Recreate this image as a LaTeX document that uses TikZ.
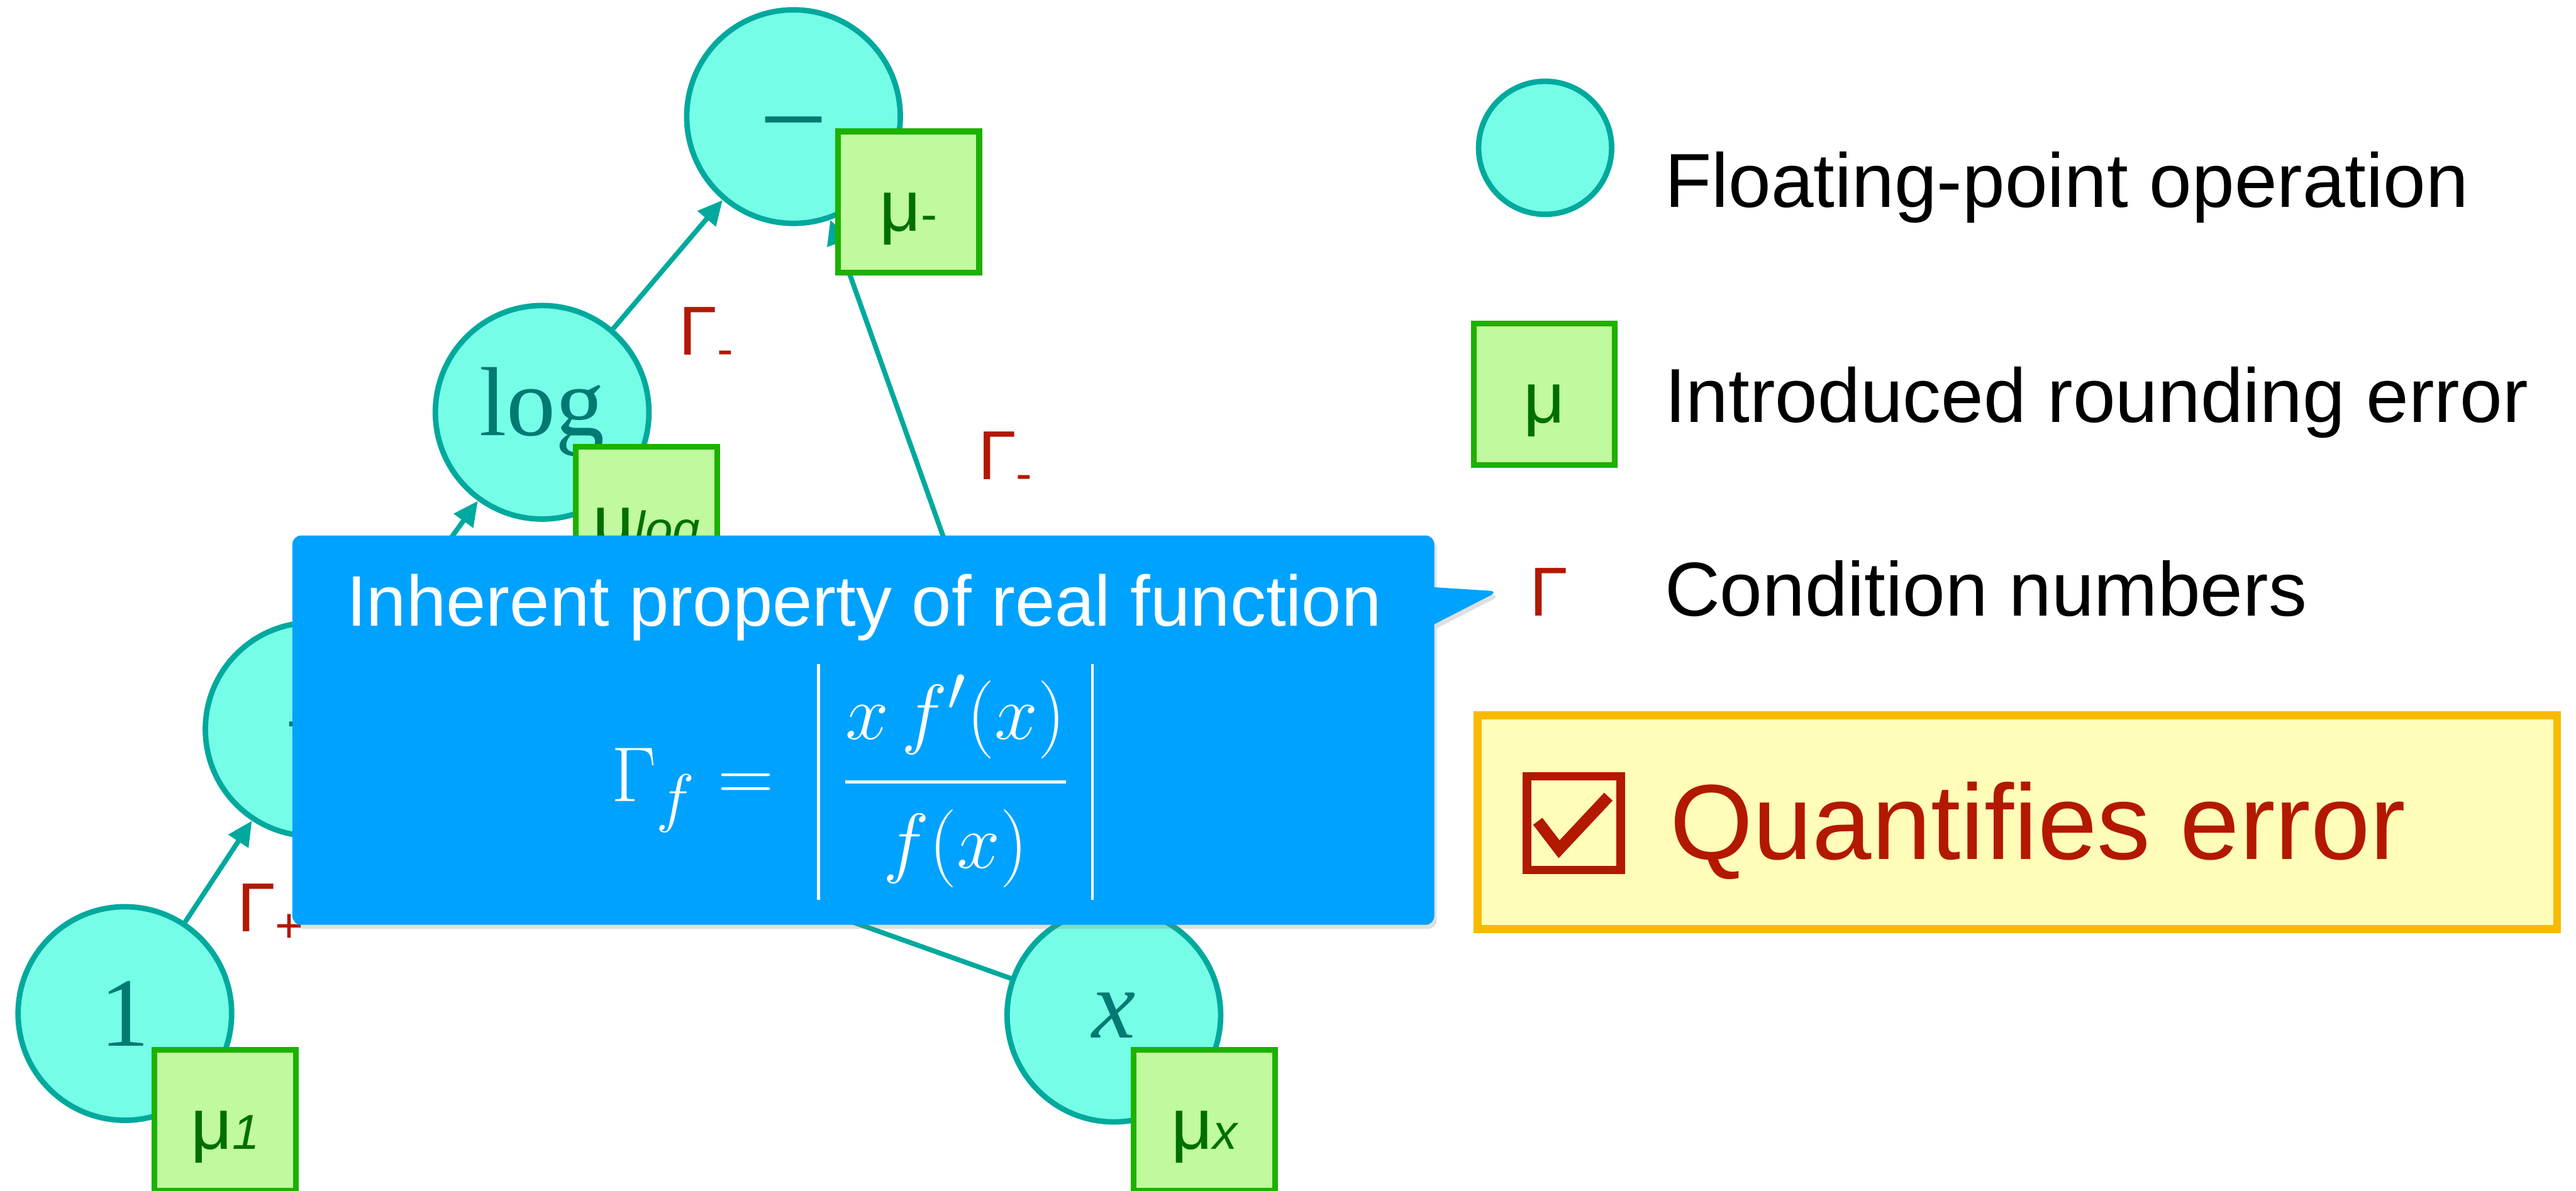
\documentclass[tikz,border=0pt]{standalone}
\usepackage{amsmath}
\usepackage[no-math]{fontspec}
\setmainfont{Liberation Sans}
\newfontfamily\opfont{Liberation Serif}
\usetikzlibrary{arrows.meta,shapes.callouts,shadows}

\definecolor{opfill}{HTML}{76FDE7}
\definecolor{opline}{HTML}{00A99D}
\definecolor{optext}{HTML}{007A73}
\definecolor{errfill}{HTML}{C0F99E}
\definecolor{errline}{HTML}{1DB100}
\definecolor{errtext}{HTML}{006F00}
\definecolor{condred}{HTML}{B31800}
\definecolor{noteblue}{HTML}{00A2FF}
\definecolor{goalfill}{HTML}{FFFDB8}
\definecolor{goalline}{HTML}{F8BA00}

\newcommand{\errsub}[1]{{\fontsize{17}{20}\selectfont #1}}
\newcommand{\absbar}{\rule[-31.3pt]{0.9pt}{75.2pt}}

\begin{document}
\begin{tikzpicture}[
    op/.style={circle, draw=opline, fill=opfill, line width=1.9pt, minimum size=2.6cm, inner sep=0pt, text=optext, font=\opfont\fontsize{34}{40}\selectfont},
    err/.style={draw=errline, fill=errfill, line width=2pt, minimum size=1.72cm, inner sep=0pt, text=errtext, text height=22pt, text depth=2pt, font=\fontsize{25}{30}\selectfont, drop shadow={opacity=0.2, shadow xshift=0.04cm, shadow yshift=-0.04cm}},
    cond/.style={anchor=base west, inner sep=0pt, text=condred, font=\fontsize{24}{28}\selectfont},
    arr/.style={-{Triangle[length=3mm,width=2.8mm]}, line width=1.7pt, opline},
    leg/.style={anchor=base west, inner sep=0pt, font=\fontsize{26.5}{32}\selectfont}
]
\useasboundingbox (0,0) rectangle (31.36,14.5);

\node[op, font=\opfont\fontsize{42}{48}\selectfont, text height=30pt, text depth=0pt] (minus) at (9.66,13.08) {−};
\node[op] (log) at (6.60,9.48) {log};
\node[op] (plus) at (3.80,5.62) {+};
\node[op] (one) at (1.52,2.16) {1};
\node[op] (x) at (13.56,2.14) {\itshape x};

\draw[arr] (one) -- (plus);
\draw[arr] (x) -- (plus);
\draw[arr] (plus) -- (log);
\draw[arr] (log) -- (minus);
\draw[arr] (x) -- (minus);

\node[err] (errminus) at (11.06,12.04) {μ\errsub{-}};
\node[err] (errlog) at (7.87,8.20) {μ\errsub{\itshape log}};
\node[err] (errone) at (2.74,0.86) {μ\errsub{\itshape 1}};
\node[err] (errx) at (14.66,0.86) {μ\errsub{\itshape x}};

\node[cond] (condplus) at (2.88,3.16) {Γ\textsubscript{+}};
\node[cond] (condlog) at (8.26,10.18) {Γ\textsubscript{-}};
\node[cond] (condx) at (11.90,8.66) {Γ\textsubscript{-}};

\node[rectangle callout, fill=noteblue, minimum width=13.9cm, minimum height=4.74cm, rounded corners=3pt, callout absolute pointer={(18.24,7.30)}, callout pointer width=0.45cm, drop shadow={opacity=0.25, shadow xshift=0.03cm, shadow yshift=-0.05cm}] (note) at (10.51,5.61) {};
\node[anchor=base, inner sep=0pt, text=white, font=\fontsize{24.8}{30}\selectfont] (notetitle) at (10.52,6.88) {Inherent property of real function};
\node[inner sep=0pt, text=white, font=\fontsize{24.88}{30}\selectfont] (noteformula) at (10.38,4.98) {\scalebox{1.085}{$\Gamma_{f} = \;\absbar\;\dfrac{x\,f'(x)\rule[-0.41em]{0pt}{0pt}}{\rule{0pt}{0.96em}f(x)}\;\absbar$}};

\node[op, minimum size=1.62cm] (legop) at (18.81,12.70) {};
\node[leg] (legoptext) at (20.26,11.98) {Floating-point operation};
\node[err] (legerr) at (18.80,9.70) {μ};
\node[leg] (legerrtext) at (20.26,9.36) {Introduced rounding error};
\node[cond] (legcond) at (18.62,7.00) {Γ};
\node[leg] (legcondtext) at (20.26,7.00) {Condition numbers};

\node[draw=goalline, fill=goalfill, line width=2.8pt, minimum width=13.14cm, minimum height=2.6cm] (goal) at (24.56,4.49) {};
\node[draw=condred, line width=2.9pt, minimum size=1.14cm, inner sep=0pt] (chk) at (19.16,4.48) {};
\draw[condred, line width=4pt] ([shift={(-0.44,0.02)}]chk.center) -- ([shift={(-0.18,-0.32)}]chk.center) -- ([shift={(0.42,0.32)}]chk.center);
\node[anchor=base west, inner sep=0pt, text=condred, font=\fontsize{37}{44}\selectfont] (goaltext) at (20.32,4.04) {Quantifies error};
\end{tikzpicture}
\end{document}
